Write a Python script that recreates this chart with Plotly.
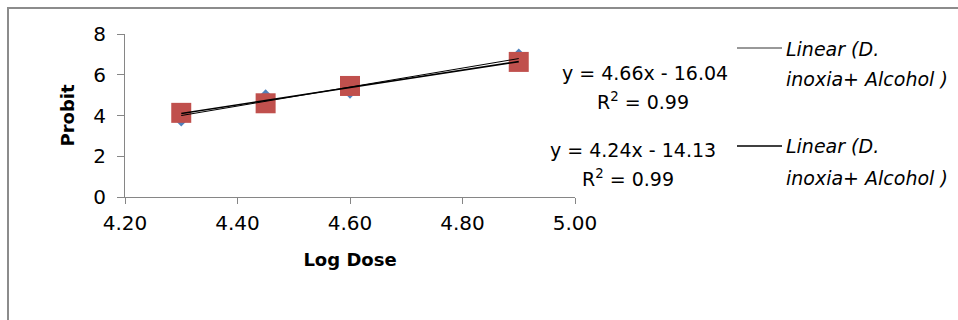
import plotly.graph_objects as go

# ---- data ----
log_dose = [4.30, 4.45, 4.60, 4.90]
probit_alcohol_a = [3.84, 4.90, 5.21, 6.91]   # blue diamonds
probit_alcohol_b = [4.13, 4.60, 5.45, 6.63]   # red squares
fit_a = (4.66, -16.04)
fit_b = (4.24, -14.13)
r2_a = 0.99
r2_b = 0.99
trend_name = "Linear (D. inoxia+ Alcohol )"
x_ticks = [4.20, 4.40, 4.60, 4.80, 5.00]
y_ticks = [0, 2, 4, 6, 8]

# ---- layout geometry (pixels) ----
W, H = 958, 320
ML, MR, MT, MB = 125, 383, 34, 123
PW, PH = W - ML - MR, H - MT - MB


def px(x):
    return (x - ML) / PW


def py(y):
    return (H - MB - y) / PH


AX = "#868686"
FONT = "DejaVu Sans"

x_fit = [min(log_dose), max(log_dose)]
fig = go.Figure()
fig.add_trace(go.Scatter(x=log_dose, y=probit_alcohol_a, mode="markers",
                         marker=dict(symbol="diamond", size=12, color="#4F81BD"),
                         showlegend=False, name="D. inoxia+ Alcohol"))
fig.add_trace(go.Scatter(x=log_dose, y=probit_alcohol_b, mode="markers",
                         marker=dict(symbol="square", size=20, color="#C0504D"),
                         showlegend=False, name="D. inoxia+ Alcohol"))
fig.add_trace(go.Scatter(x=x_fit, y=[fit_a[0] * v + fit_a[1] for v in x_fit], mode="lines",
                         line=dict(color="#000000", width=1), showlegend=False, name=trend_name))
fig.add_trace(go.Scatter(x=x_fit, y=[fit_b[0] * v + fit_b[1] for v in x_fit], mode="lines",
                         line=dict(color="#000000", width=1.6), showlegend=False, name=trend_name))


def eq(f):
    s = "-" if f[1] < 0 else "+"
    return f"y = {f[0]:.2f}x {s} {abs(f[1]):.2f}"


annos = []
tf = dict(family=FONT, size=19, color="#000000")
annos.append(dict(text=eq(fit_a), x=px(645), y=py(73)))
annos.append(dict(text=f"R<sup>2</sup> = {r2_a:.2f}", x=px(643), y=py(101)))
annos.append(dict(text=eq(fit_b), x=px(633), y=py(150)))
annos.append(dict(text=f"R<sup>2</sup> = {r2_b:.2f}", x=px(628), y=py(178)))
for a in annos:
    a.update(xref="paper", yref="paper", showarrow=False, xanchor="center",
             yanchor="middle", font=tf)

lf = dict(family=FONT, size=19, color="#000000")
words = trend_name.split(" ")
line1 = " ".join(words[:2])
line2 = " ".join(words[2:])
for ytop, ybot in [(49, 79), (146, 178)]:
    annos.append(dict(text=f"<i>{line1}</i>", x=px(784), y=py(ytop), xref="paper", yref="paper",
                      showarrow=False, xanchor="left", yanchor="middle", font=lf))
    annos.append(dict(text=f"<i>{line2}</i>", x=px(784), y=py(ybot), xref="paper", yref="paper",
                      showarrow=False, xanchor="left", yanchor="middle", font=lf))

shapes = [
    dict(type="line", xref="paper", yref="paper", x0=px(737), x1=px(782), y0=py(48), y1=py(48),
         line=dict(color="#333333", width=1)),
    dict(type="line", xref="paper", yref="paper", x0=px(737), x1=px(782), y0=py(146), y1=py(146),
         line=dict(color="#000000", width=1.6)),
    dict(type="rect", xref="paper", yref="paper", x0=px(8), x1=px(975), y0=py(8), y1=py(340),
         line=dict(color="#8c8c8c", width=2), layer="below"),
]

fig.update_layout(
    width=W, height=H,
    margin=dict(l=ML, r=MR, t=MT, b=MB, autoexpand=False),
    paper_bgcolor="white", plot_bgcolor="white",
    showlegend=False,
    annotations=annos, shapes=shapes,
    xaxis=dict(range=[4.2, 5.0], tickvals=x_ticks, ticktext=[f"{v:.2f}" for v in x_ticks],
               showgrid=False, zeroline=False, showline=True, linecolor=AX, linewidth=1,
               ticks="outside", ticklen=6, tickcolor=AX, ticklabelstandoff=2,
               tickfont=dict(family=FONT, size=20, color="#000000"),
               title=dict(text="<b>Log Dose</b>", standoff=19,
                          font=dict(family=FONT, size=18, color="#000000"))),
    yaxis=dict(range=[0, 8], tickvals=y_ticks,
               showgrid=False, zeroline=False, showline=True, linecolor=AX, linewidth=1,
               ticks="outside", ticklen=7, tickcolor=AX, ticklabelstandoff=7,
               tickfont=dict(family=FONT, size=20, color="#000000"),
               title=dict(text="<b>Probit</b>", standoff=13,
                          font=dict(family=FONT, size=18, color="#000000"))),
)

fig.write_html("out.html", config={"displayModeBar": False},
               post_script="document.body.style.margin='0';document.body.style.padding='0';")
